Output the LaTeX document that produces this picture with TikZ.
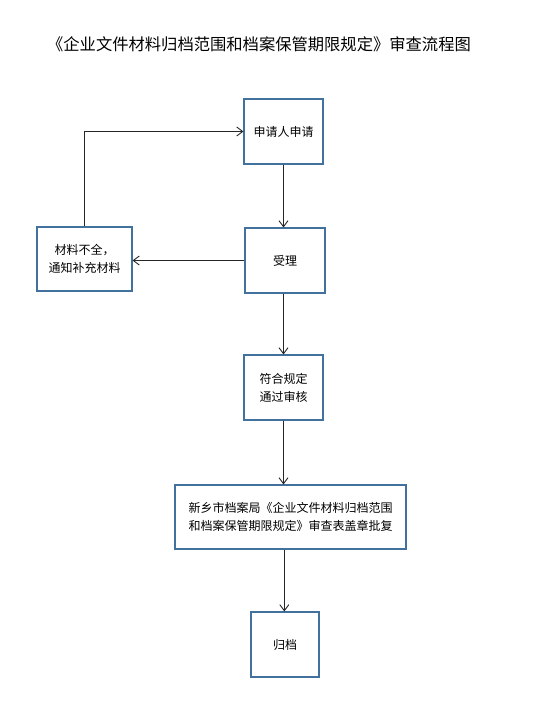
\documentclass[tikz,border=0pt]{standalone}
\usepackage{fontspec}
\setmainfont{Noto Sans CJK SC}
\usetikzlibrary{arrows.meta}
\definecolor{boxblue}{HTML}{41719C}
\tikzset{
  flowbox/.style={draw=boxblue, line width=1.1pt, inner sep=0pt, font=\fontsize{12}{18}\selectfont},
  flowarrow/.style={draw=black!85, line width=0.9pt, -{Straight Barb[length=6pt,width=9pt,line width=0.9pt]}},
}
\begin{document}
\begin{tikzpicture}[x=1pt,y=-1pt]
\useasboundingbox (0,0) rectangle (546,726);
\node[font=\fontsize{16.3}{20}\selectfont] (title) at (259,44) {《企业文件材料归档范围和档案保管期限规定》审查流程图};
\node[flowbox, minimum width=79pt, minimum height=65pt] (apply) at (283.5,131.5) {申请人申请};
\node[flowbox, minimum width=80pt, minimum height=65pt] (accept) at (285,260.5) {受理};
\node[flowbox, minimum width=95pt, minimum height=64pt, align=center] (lack) at (84.5,259) {材料不全，\\通知补充材料};
\node[flowbox, minimum width=79pt, minimum height=65pt, align=center] (ok) at (283.5,387.5) {符合规定\\通过审核};
\node[flowbox, minimum width=231pt, minimum height=64pt, align=left] (approve) at (290.5,517) {新乡市档案局《企业文件材料归档范围\\和档案保管期限规定》审查表盖章批复};
\node[flowbox, minimum width=68pt, minimum height=65pt] (file) at (285,644.5) {归档};
\draw[flowarrow] (apply.south) -- (accept.north -| apply.south);
\draw[flowarrow] (accept.west) -- ([yshift=-1.5pt]lack.east);
\draw[flowarrow] (lack.north) |- (apply.west);
\draw[flowarrow] (ok.north |- accept.south) -- (ok.north);
\draw[flowarrow] (ok.south) -- (approve.north -| ok.south);
\draw[flowarrow] ([xshift=-0.7pt]file.north |- approve.south) -- ([xshift=-0.7pt]file.north);
\end{tikzpicture}
\end{document}
